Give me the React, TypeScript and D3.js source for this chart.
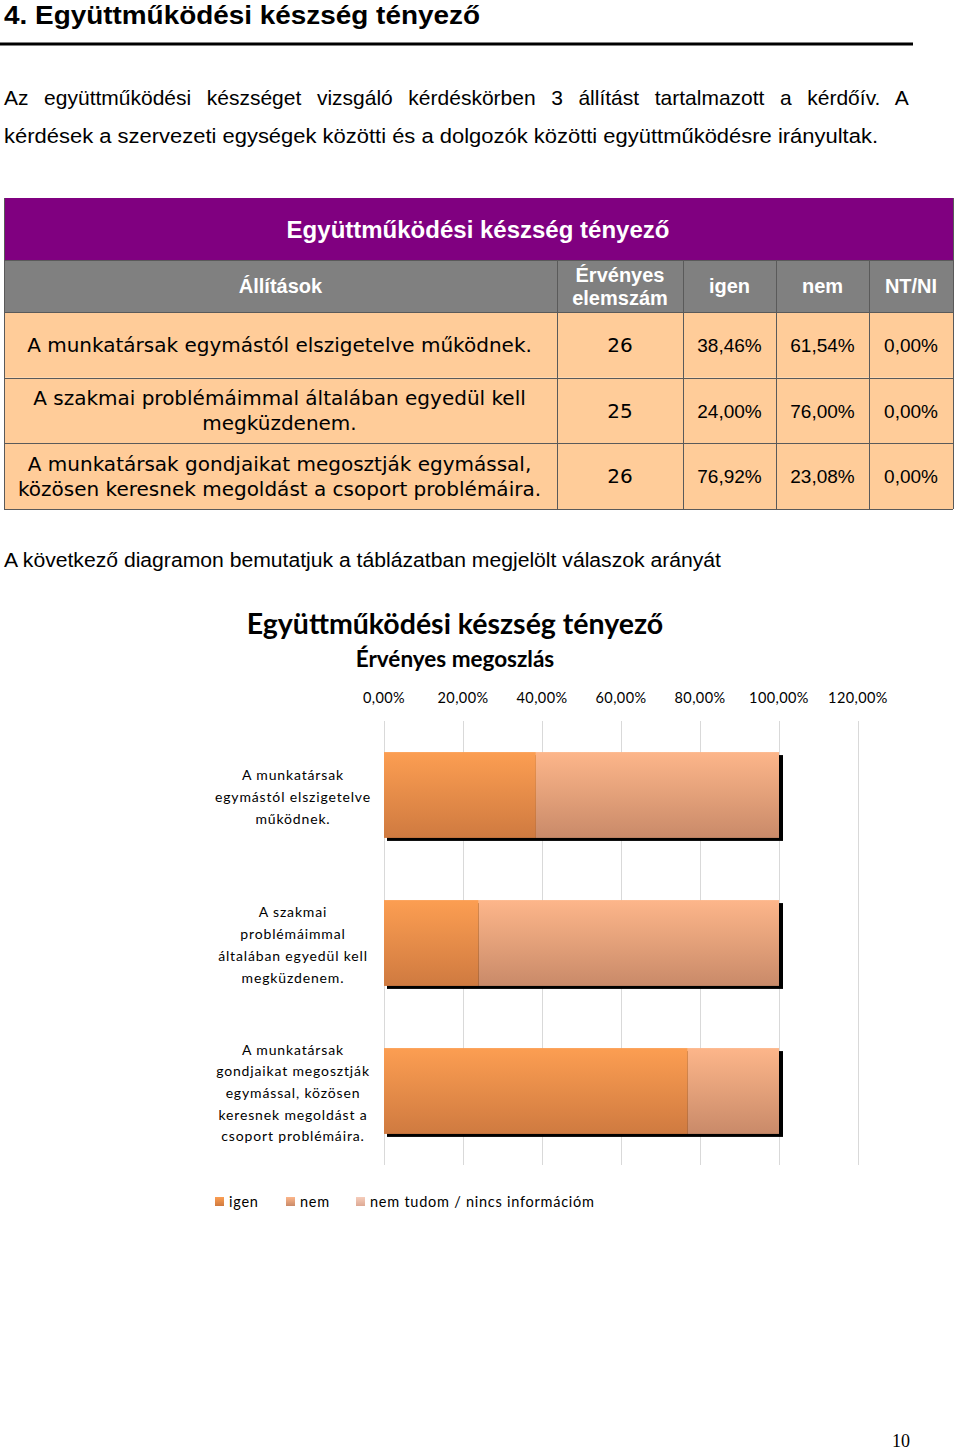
import React from "react";
import * as d3 from "d3";

const statements = [
  ["A munkatársak egymástól elszigetelve működnek."],
  ["A szakmai problémáimmal általában egyedül kell", "megküzdenem."],
  ["A munkatársak gondjaikat megosztják egymással,", "közösen keresnek megoldást a csoport problémáira."],
];
const chartLabels = [
  ["A munkatársak", "egymástól elszigetelve", "működnek."],
  ["A szakmai", "problémáimmal", "általában egyedül kell", "megküzdenem."],
  ["A munkatársak", "gondjaikat megosztják", "egymással, közösen", "keresnek megoldást a", "csoport problémáira."],
];
const validN = [26, 25, 26];
const igen = [38.46, 24.0, 76.92];
const nem = [61.54, 76.0, 23.08];
const ntni = [0.0, 0.0, 0.0];
const xTicks = [0, 20, 40, 60, 80, 100, 120];
const seriesNames = ["igen", "nem", "nem tudom / nincs információm"];
const headerCols = ["Állítások", "Érvényes\nelemszám", "igen", "nem", "NT/NI"];
const introLine1 = "Az együttműködési készséget vizsgáló kérdéskörben 3 állítást tartalmazott a kérdőív. A";
const introLine2 = "kérdések a szervezeti egységek közötti és a dolgozók közötti együttműködésre irányultak.";

const pct = (v: number) => v.toFixed(2).replace(".", ",") + "%";

function justifySpacing(text: string, font: string, target: number) {
  try {
    const ctx = document.createElement("canvas").getContext("2d");
    if (!ctx) return 0;
    ctx.font = font;
    const w = ctx.measureText(text).width;
    const gaps = text.split(" ").length - 1;
    return gaps > 0 ? (target - w) / gaps : 0;
  } catch (e) {
    return 0;
  }
}

export default function App() {
  const x = d3.scaleLinear().domain([0, 120]).range([384, 858]);
  const y = d3
    .scaleBand<number>()
    .domain([0, 1, 2])
    .range([721, 1165])
    .paddingInner(0.42)
    .paddingOuter(0.21);

  const colX = [4, 557, 683, 776, 869, 953];
  const rowY = d3.scaleBand<number>().domain([0, 1, 2]).range([312, 509]);
  const arial = "'Liberation Sans', Arial, sans-serif";
  const verd = "'DejaVu Sans', Verdana, sans-serif";
  const cal = "Lato, 'Open Sans', sans-serif";

  const ws1 = justifySpacing(introLine1, "21px 'Liberation Sans'", 906);

  const series = [igen, nem, ntni];
  const fills = ["url(#gIgen)", "url(#gNem)", "url(#gNt)"];
  const stacks = [0, 1, 2].map((i) => {
    let acc = 0;
    return series.map((s) => {
      const start = acc;
      acc += s[i];
      return [start, acc];
    });
  });

  return (
    <svg width={960} height={1450} style={{ position: "absolute", left: 0, top: 0, background: "#fff" }}>
      <defs>
        <linearGradient id="gIgen" x1="0" y1="0" x2="0" y2="1">
          <stop offset="0" stopColor="#FC9E52" />
          <stop offset="1" stopColor="#CF7A40" />
        </linearGradient>
        <linearGradient id="gNem" x1="0" y1="0" x2="0" y2="1">
          <stop offset="0" stopColor="#FDB68A" />
          <stop offset="1" stopColor="#C98A69" />
        </linearGradient>
        <linearGradient id="gNt" x1="0" y1="0" x2="0" y2="1">
          <stop offset="0" stopColor="#F6CDBB" />
          <stop offset="1" stopColor="#DDA994" />
        </linearGradient>
      </defs>

      {/* Heading */}
      <text x={4} y={23.5} fontFamily={arial} fontWeight="bold" fontSize={25.5} textLength={476} lengthAdjust="spacingAndGlyphs">
        4. Együttműködési készség tényező
      </text>
      <rect x={0} y={42.5} width={913} height={3} fill="#000" />

      <text x={4} y={105} fontFamily={arial} fontSize={21} wordSpacing={ws1}>
        {introLine1}
      </text>
      <text x={4} y={143} fontFamily={arial} fontSize={20.5} textLength={874} lengthAdjust="spacingAndGlyphs">
        {introLine2}
      </text>

      {/* Table */}
      <rect x={colX[0]} y={198} width={colX[5] - colX[0]} height={62} fill="#800080" />
      <text x={478} y={238} textAnchor="middle" fill="#fff" fontFamily={arial} fontWeight="bold" fontSize={24}>
        Együttműködési készség tényező
      </text>
      <rect x={colX[0]} y={260} width={colX[5] - colX[0]} height={52} fill="#808080" />
      {headerCols.map((h, i) => {
        const cx = (colX[i] + colX[i + 1]) / 2;
        const lines = h.split("\n");
        return (
          <text key={i} textAnchor="middle" fill="#fff" fontFamily={arial} fontWeight="bold" fontSize={20}>
            {lines.map((l, j) => (
              <tspan key={j} x={cx} y={lines.length === 1 ? 293 : 282 + j * 23}>
                {l}
              </tspan>
            ))}
          </text>
        );
      })}
      {[0, 1, 2].map((r) => {
        const y0 = rowY(r)!;
        const h = rowY.bandwidth();
        const cy = y0 + h / 2;
        const lines = statements[r];
        const vals = [pct(igen[r]), pct(nem[r]), pct(ntni[r])];
        return (
          <g key={r}>
            <rect x={colX[0]} y={y0} width={colX[5] - colX[0]} height={h} fill="#FFCC99" />
            <text textAnchor="middle" fontFamily={verd} fontSize={20} fill="#000">
              {lines.map((l, j) => (
                <tspan key={j} x={(colX[0] + colX[1]) / 2 - 1} y={cy + 7 + (j - (lines.length - 1) / 2) * 25}>
                  {l}
                </tspan>
              ))}
            </text>
            <text x={(colX[1] + colX[2]) / 2} y={cy + 7} textAnchor="middle" fontFamily={verd} fontSize={20}>
              {validN[r]}
            </text>
            {vals.map((v, k) => (
              <text key={k} x={(colX[k + 2] + colX[k + 3]) / 2} y={cy + 7} textAnchor="middle" fontFamily={arial} fontSize={19}>
                {v}
              </text>
            ))}
          </g>
        );
      })}
      <g stroke="#5a5a5a" strokeWidth={1}>
        {[260, 312, 378, 443, 509].map((yy) => (
          <line key={yy} x1={colX[0]} x2={colX[5]} y1={yy + 0.5} y2={yy + 0.5} />
        ))}
        {colX.slice(1, 5).map((xx) => (
          <line key={xx} x1={xx + 0.5} x2={xx + 0.5} y1={260} y2={509} />
        ))}
        <line x1={colX[0] + 0.5} x2={colX[0] + 0.5} y1={198} y2={509} />
        <line x1={colX[5] + 0.5} x2={colX[5] + 0.5} y1={198} y2={509} />
      </g>

      <text x={4} y={567} fontFamily={arial} fontSize={20} textLength={717} lengthAdjust="spacingAndGlyphs">
        A következő diagramon bemutatjuk a táblázatban megjelölt válaszok arányát
      </text>

      {/* Chart */}
      <text x={455} y={634} textAnchor="middle" fontFamily={cal} fontWeight="bold" fontSize={28.5}>
        Együttműködési készség tényező
      </text>
      <text x={455} y={667} textAnchor="middle" fontFamily={cal} fontWeight="bold" fontSize={22.5}>
        Érvényes megoszlás
      </text>
      {xTicks.map((t) => (
        <g key={t}>
          <line x1={x(t) + 0.5} x2={x(t) + 0.5} y1={721} y2={1165} stroke="#d9d9d9" />
          <text x={x(t)} y={703} textAnchor="middle" fontFamily={cal} fontSize={14.5} letterSpacing={0.4}>
            {pct(t)}
          </text>
        </g>
      ))}
      {[0, 1, 2].map((i) => {
        const y0 = y(i)!;
        const bw = y.bandwidth();
        const total = stacks[i][stacks[i].length - 1][1];
        return (
          <g key={i}>
            <rect x={x(0) + 3} y={y0 + 3} width={x(total) - x(0) + 1} height={bw} fill="#000" />
            {stacks[i].map(([a, b], k) =>
              b > a ? <rect key={k} x={x(a)} y={y0} width={x(b) - x(a)} height={bw} fill={fills[k]} /> : null
            )}
            <text textAnchor="middle" fontFamily={cal} fontSize={14} letterSpacing={0.85} fill="#000">
              {chartLabels[i].map((l, j) => (
                <tspan key={j} x={293} y={y0 + bw / 2 + 7 + (j - (chartLabels[i].length - 1) / 2) * 21.7}>
                  {l}
                </tspan>
              ))}
            </text>
          </g>
        );
      })}
      {/* Legend */}
      {seriesNames.map((n, k) => {
        const lx = [215, 286, 356][k];
        return (
          <g key={k}>
            <rect x={lx} y={1197} width={9} height={9} fill={fills[k]} />
            <text x={lx + 14} y={1207} fontFamily={cal} fontSize={14.5} letterSpacing={0.75}>
              {n}
            </text>
          </g>
        );
      })}

      <text x={901} y={1447} textAnchor="middle" fontFamily="'Liberation Serif', 'Times New Roman', serif" fontSize={18}>
        10
      </text>
    </svg>
  );
}
